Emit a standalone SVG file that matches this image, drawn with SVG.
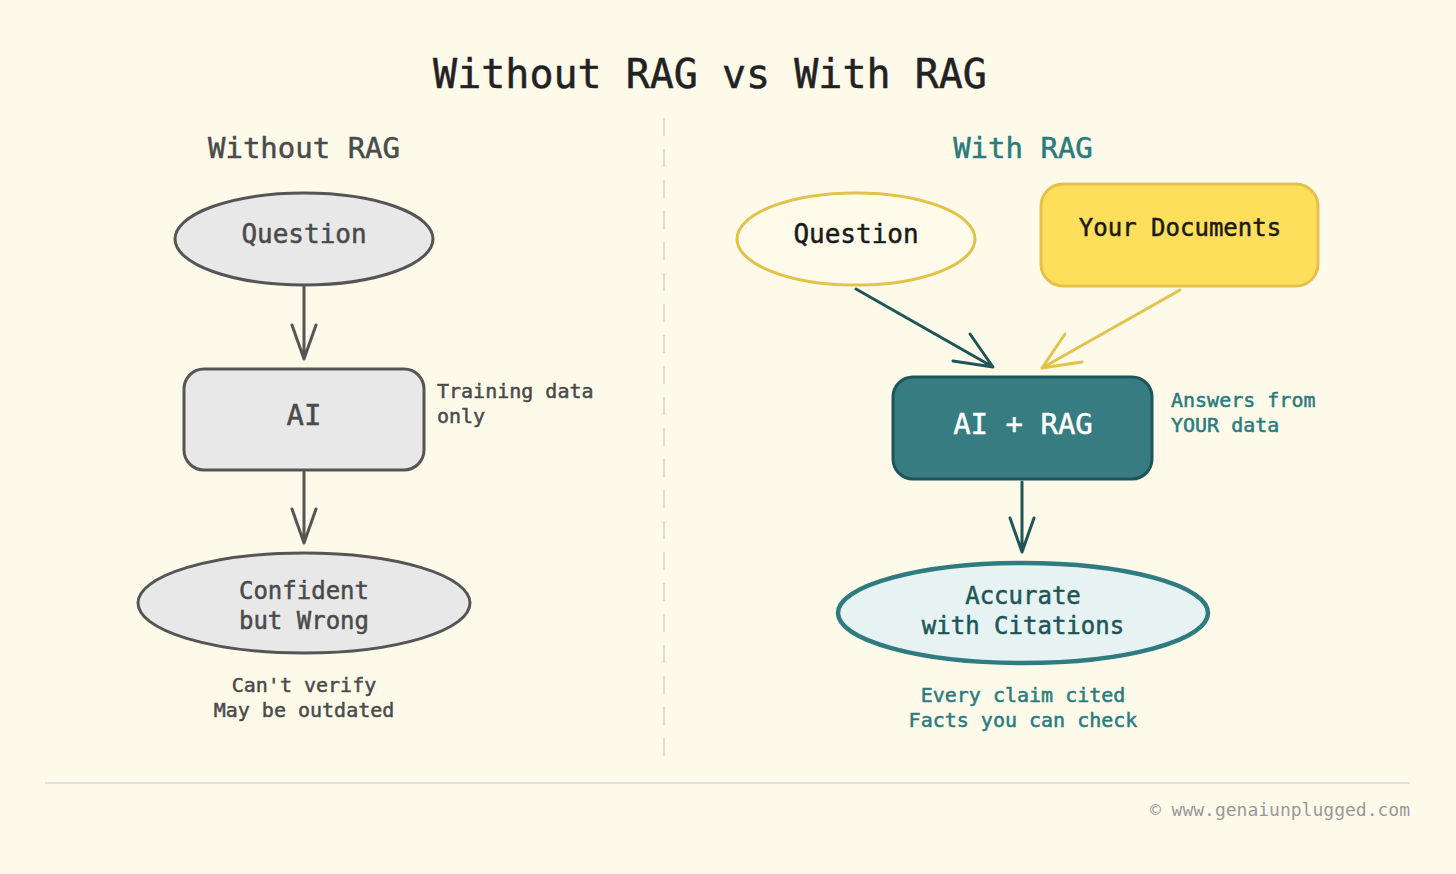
<svg xmlns="http://www.w3.org/2000/svg" width="1456" height="874" viewBox="0 0 1456 874">
<style>
text{font-family:"DejaVu Sans Mono","Liberation Mono",monospace;}
.b{stroke-width:0.5;paint-order:stroke}
.gray{fill:#e8e8e8;stroke:#555;stroke-width:3}
.gt{fill:#4a4a4a;stroke:#4a4a4a;text-anchor:middle}
.note{font-size:20px}
.teal{fill:#2a7a7e;stroke:#2a7a7e}
.ln{fill:none;stroke-width:3;stroke-linecap:round;stroke-linejoin:round}
</style>
<rect width="1456" height="874" fill="#fefaea"/>
<text class="b" x="710" y="88" font-size="40" text-anchor="middle" fill="#222" stroke="#222">Without RAG vs With RAG</text>
<text class="b" x="304" y="158" font-size="29" text-anchor="middle" fill="#4a4a4a" stroke="#4a4a4a">Without RAG</text>
<text class="b" x="1023" y="158" font-size="29" text-anchor="middle" fill="#2a7a7e" stroke="#2a7a7e">With RAG</text>
<line x1="664" y1="118" x2="664" y2="758" stroke="#dedcd4" stroke-width="2" stroke-dasharray="18 13"/>

<g id="connectors">
<path class="ln" stroke="#555" d="M304 287V359M292 325L304 359L316 325"/>
<path class="ln" stroke="#555" d="M304 472V543M292 509L304 543L316 509"/>
<path class="ln" stroke="#1f5558" d="M856 289L993 367M953 361L993 367L970 334"/>
<path class="ln" stroke="#e3c24a" d="M1180 290L1042 368M1065 334L1042 368L1082 362"/>
<path class="ln" stroke="#1f5558" d="M1022 482V552M1010 518L1022 552L1034 518"/>
</g>

<g id="left-question">
<ellipse class="gray" cx="304" cy="239" rx="129" ry="46"/>
<text class="gt b" x="304" y="243" font-size="26">Question</text>
</g>
<g id="left-ai">
<rect class="gray" x="184" y="369" width="240" height="101" rx="20"/>
<text class="gt b" x="304" y="425" font-size="29">AI</text>
<text x="437" y="398" class="note b" fill="#4a4a4a" stroke="#4a4a4a">Training data</text>
<text x="437" y="423" class="note b" fill="#4a4a4a" stroke="#4a4a4a">only</text>
</g>
<g id="left-result">
<ellipse class="gray" cx="304" cy="603" rx="166" ry="50"/>
<text class="gt b" x="304" y="599" font-size="24">Confident</text>
<text class="gt b" x="304" y="629" font-size="24">but Wrong</text>
<text class="gt note b" x="304" y="692">Can't verify</text>
<text class="gt note b" x="304" y="717">May be outdated</text>
</g>

<g id="right-question">
<ellipse cx="856" cy="239" rx="119" ry="46" fill="#fffbea" stroke="#e3c24a" stroke-width="3"/>
<text class="b" x="856" y="243" font-size="26" text-anchor="middle" fill="#1a1a1a" stroke="#1a1a1a">Question</text>
</g>
<g id="documents">
<rect x="1041" y="184" width="277" height="102" rx="22" fill="#fedf5b" stroke="#e3c24a" stroke-width="3"/>
<text class="b" x="1180" y="236" font-size="24" text-anchor="middle" fill="#1a1a1a" stroke="#1a1a1a">Your Documents</text>
</g>
<g id="ai-rag">
<rect x="893" y="377" width="259" height="102" rx="20" fill="#367c80" stroke="#1f5558" stroke-width="3"/>
<text class="b" x="1023" y="434" font-size="29" text-anchor="middle" fill="#ffffff" stroke="#ffffff">AI + RAG</text>
<text x="1171" y="407" class="note teal b">Answers from</text>
<text x="1171" y="432" class="note teal b">YOUR data</text>
</g>
<g id="right-result">
<ellipse cx="1023" cy="613" rx="185" ry="50" fill="#e7f3f2" stroke="#2f7b7f" stroke-width="4.5"/>
<text class="b" x="1023" y="604" font-size="24" text-anchor="middle" fill="#1f5558" stroke="#1f5558">Accurate</text>
<text class="b" x="1023" y="634" font-size="24" text-anchor="middle" fill="#1f5558" stroke="#1f5558">with Citations</text>
<text x="1023" y="702" text-anchor="middle" class="note teal b">Every claim cited</text>
<text x="1023" y="727" text-anchor="middle" class="note teal b">Facts you can check</text>
</g>

<line x1="45" y1="783" x2="1410" y2="783" stroke="#e0e0e0" stroke-width="2"/>
<text x="1410" y="816" font-size="18" text-anchor="end" fill="#999">© www.genaiunplugged.com</text>
</svg>
